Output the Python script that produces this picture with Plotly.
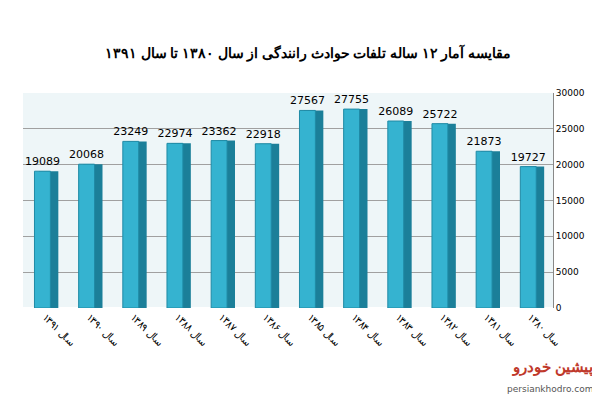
import plotly.graph_objects as go

years = ["سال ۱۳۹۱", "سال ۱۳۹۰", "سال ۱۳۸۹", "سال ۱۳۸۸", "سال ۱۳۸۷", "سال ۱۳۸۶",
         "سال ۱۳۸۵", "سال ۱۳۸۴", "سال ۱۳۸۳", "سال ۱۳۸۲", "سال ۱۳۸۱", "سال ۱۳۸۰"]
deaths = [19089, 20068, 23249, 22974, 23362, 22918, 27567, 27755, 26089, 25722, 21873, 19727]
yticks = [0, 5000, 10000, 15000, 20000, 25000, 30000]

fig = go.Figure()
# darker side face, to hint at the 3D look
fig.add_trace(go.Bar(x=years, y=deaths, width=0.44, offset=-0.14,
                     marker=dict(color="#1b7f99", line=dict(width=0)),
                     hoverinfo="skip", showlegend=False))
fig.add_trace(go.Bar(x=years, y=deaths, width=0.36, offset=-0.24,
                     marker=dict(color="#35b3d0", line=dict(color="#1f8aa5", width=1)),
                     text=[str(v) for v in deaths], textposition="outside",
                     constraintext="none",
                     textfont=dict(family="DejaVu Sans", size=11, color="black"),
                     cliponaxis=False, showlegend=False))

fig.update_layout(
    width=600, height=400, barmode="overlay",
    margin=dict(l=15, r=55, t=85, b=100),
    paper_bgcolor="white", plot_bgcolor="#eef6f8",
    title=dict(text="<b>مقایسه آمار ۱۲ ساله تلفات حوادث رانندگی از سال ۱۳۸۰ تا سال ۱۳۹۱</b>",
               x=0.5, y=0.9, xanchor="center",
               font=dict(family="Noto Sans", size=14, color="black")),
    xaxis=dict(tickangle=45, tickfont=dict(family="Noto Sans", size=10, color="black"),
               showline=False),
    yaxis=dict(side="right", range=[0, 30000], tickvals=yticks, tickformat="d",
               tickfont=dict(family="DejaVu Sans", size=9, color="black"),
               gridcolor="#a0a0a0", showline=True, linecolor="#888"),
)
fig.add_annotation(text="<b>پیشین خودرو</b>", x=1.08, y=-0.33, xref="paper", yref="paper",
                   xanchor="right", showarrow=False,
                   font=dict(family="Noto Sans", size=15, color="#c0392b"))
fig.add_annotation(text="persiankhodro.com", x=1.08, y=-0.41, xref="paper", yref="paper",
                   xanchor="right", showarrow=False,
                   font=dict(family="DejaVu Sans", size=9, color="#555"))
fig.write_html("out.html")
